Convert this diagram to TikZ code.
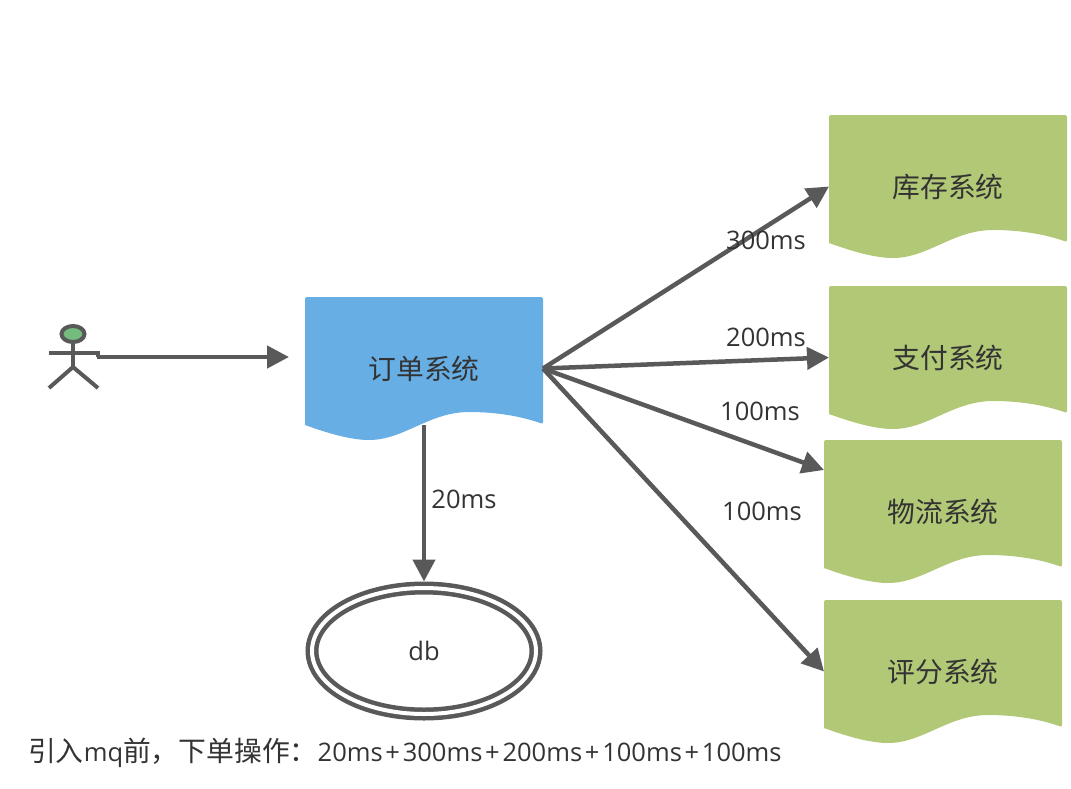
\documentclass[tikz,border=0pt]{standalone}
\usepackage{fontspec}
\setmainfont{Open Sans}
\newfontfamily\cjk[Scale=1.09]{Noto Sans CJK SC}
\usetikzlibrary{arrows.meta}
\usetikzlibrary{calc}
\usetikzlibrary{shapes.geometric}
\definecolor{linegray}{HTML}{595959}
\definecolor{textgray}{HTML}{333333}
\definecolor{docblue}{HTML}{67AEE4}
\definecolor{docgreen}{HTML}{B1C876}
\definecolor{headgreen}{HTML}{73BC7D}
\tikzstyle{docbox} = [minimum width = 238pt,
	minimum height = 143pt,
	inner sep = 0pt,
	outer sep = 0pt,
	text = textgray,
	font = \fontsize{25.5}{30}\selectfont\cjk]
\tikzstyle{label} = [text = textgray]
\tikzstyle{arrow} = [-{Triangle[length=22pt, width=22pt]}, line width=4.5pt, draw=linegray, fill=linegray]
\tikzstyle{stick} = [line width=4pt, draw=linegray]
\newcommand{\drawdoc}[4]{\fill[#3, shift={#2}]
	[rounded corners=2pt] (-119,56.5) -- (-119,-71.5) -- (119,-71.5) -- (119,55.5) [sharp corners]
	.. controls (95,47) and (70,43.5) .. (45,43.5)
	.. controls (5,43.5) and (-20,71.5) .. (-55,71.5)
	.. controls (-70,71.5) and (-90,67) .. (-119,56.5) -- cycle;
	\node (#1) [docbox] at #2 {#4}}
\newcommand{\plussign}{\kern2.75pt+\kern2.75pt}

\begin{document}
\begin{tikzpicture}[x=1pt, y=-1pt, font=\fontsize{25.5}{30}\selectfont]
	\useasboundingbox (0,0) rectangle (1071,788);

	\draw [stick, fill=headgreen] (73,334) ellipse [x radius=11.5, y radius=8];
	\draw [stick] (73,342) -- (73,367);
	\draw [stick] (49,353) -- (98,353) -- (98,357);
	\draw [stick] (49,388) -- (73,367) -- (98,388);
	\coordinate (hand) at (97,357);
	\coordinate (orderin) at (289,357);
	\draw [arrow] (hand) -- (orderin);

	\drawdoc{order}{(424,368.5)}{docblue}{订单系统};
	\drawdoc{stock}{(948,186.5)}{docgreen}{库存系统};
	\drawdoc{pay}{(948,357.5)}{docgreen}{支付系统};
	\drawdoc{ship}{(943,511.5)}{docgreen}{物流系统};
	\drawdoc{score}{(943,671.5)}{docgreen}{评分系统};

	\node (db) [draw=linegray, ellipse, line width=4.5pt, double, double distance=4pt,
		minimum width=224pt, minimum height=126pt, inner sep=0pt, outer sep=6.5pt,
		label] at (424,651) {db};

	\coordinate (shipin) at ($ (ship.north west) + (0,30) $);
	\draw [arrow] ($ (order.south) + (0,-15) $) -- (db.north);
	\draw [arrow] (order.east) -- (stock.west);
	\draw [arrow] (order.east) -- (pay.west);
	\draw [arrow] (order.east) -- (shipin);
	\draw [arrow] (order.east) -- (score.west);

	\node (t20) [label] at (464,499) {20ms};
	\node (t300) [label] at (766,240) {300ms};
	\node (t200) [label] at (766,337) {200ms};
	\node (t100a) [label] at (760,411) {100ms};
	\node (t100b) [label] at (762,511) {100ms};
	\node (sumtext) [label, anchor=west, inner sep=0pt] at (28,753) {{\cjk 引入}mq{\cjk 前，下单操作：}20ms\plussign 300ms\plussign 200ms\plussign 100ms\plussign 100ms};
\end{tikzpicture}
\end{document}
